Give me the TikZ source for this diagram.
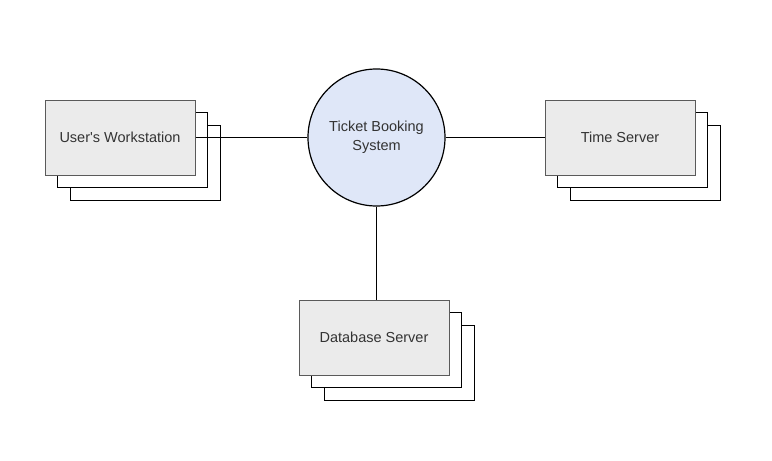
\documentclass[tikz,border=0pt]{standalone}
\usepackage{fontspec}
\setmainfont{Liberation Sans}
\definecolor{boxfill}{HTML}{EBEBEB}
\definecolor{boxedge}{HTML}{5A5A5A}
\definecolor{circfill}{HTML}{DFE7F8}
\definecolor{txt}{HTML}{333333}
\begin{document}
\begin{tikzpicture}[x=1pt,y=-1pt,
  back/.style={draw=black,fill=white,line width=1pt,minimum width=150pt,minimum height=75pt,inner sep=0pt},
  front/.style={draw=boxedge,fill=boxfill,line width=1pt,minimum width=150pt,minimum height=75pt,inner sep=0pt,text=txt,font=\fontsize{14.5}{17}\selectfont},
  hub/.style={circle,draw=black,fill=circfill,line width=1.2pt,minimum size=137pt,inner sep=0pt,text=txt,align=center,font=\fontsize{14.5}{19}\selectfont},
  link/.style={draw=black,line width=1pt}]
\useasboundingbox (0,0) rectangle (772,461);
% left stack
\node[back] (u3) at (145,162.5) {};
\node[back] (u2) at (132.5,150) {};
\node[front] (u1) at (120,137.5) {User\textquotesingle s Workstation};
% right stack
\node[back] (t3) at (645,162.5) {};
\node[back] (t2) at (632.5,150) {};
\node[front] (t1) at (620,137.5) {Time Server};
% bottom stack
\node[back] (d3) at (399,362.5) {};
\node[back] (d2) at (386.5,350) {};
\node[front] (d1) at (374,337.5) {Database Server};
% hub
\node[hub] (h) at (376.5,137.5) {Ticket Booking\\System};
% links
\draw[link] (u1.east) -- (h.west);
\draw[link] (h.east) -- (t1.west);
\draw[link] (h.south) -- (h.south |- d1.north);
\end{tikzpicture}
\end{document}
